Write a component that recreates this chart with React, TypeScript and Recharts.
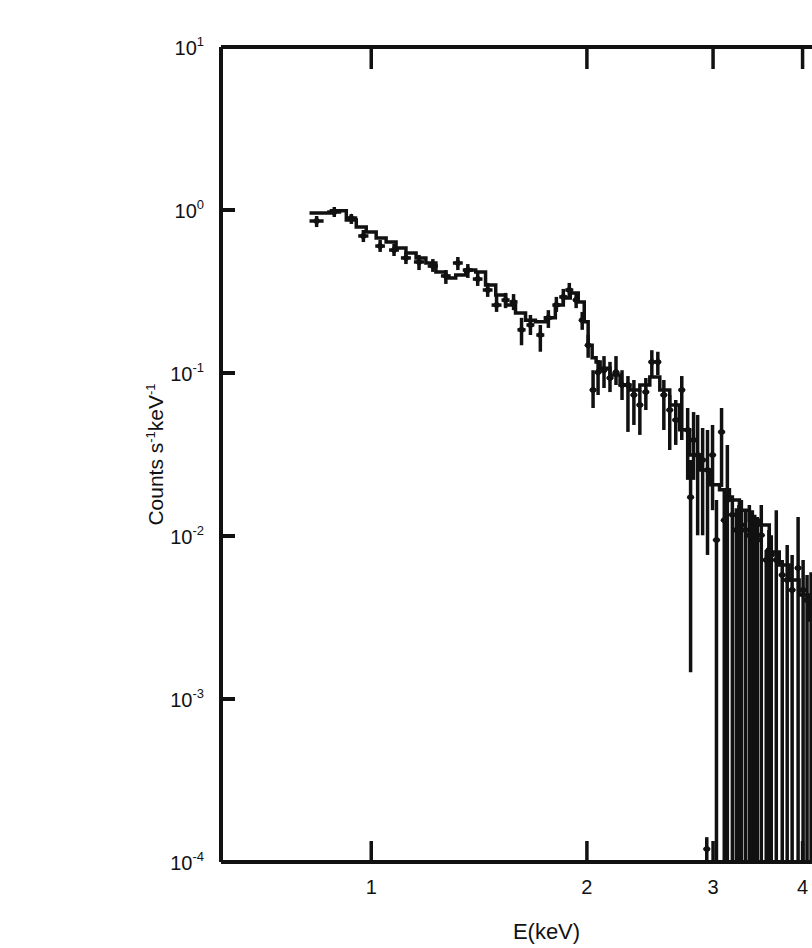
import React from 'react';
import { ComposedChart, Line, Scatter, ErrorBar, XAxis, YAxis, Label } from 'recharts';

const FONT = '"Liberation Sans", Arial, sans-serif';
const INK = '#111';

// model spectrum (step histogram), keV / counts s^-1 keV^-1
const modelE = [
  0.82, 0.88, 0.923, 0.953, 0.984, 1.016, 1.049, 1.083, 1.118, 1.155,
  1.192, 1.231, 1.271, 1.312, 1.355, 1.399, 1.444, 1.492, 1.54, 1.59,
  1.642, 1.695, 1.75, 1.807, 1.854, 1.896, 1.945, 1.983, 2.008, 2.034,
  2.06, 2.087, 2.154, 2.225, 2.297, 2.371, 2.448, 2.528, 2.61, 2.695,
  2.783, 2.873, 2.966, 3.063, 3.162, 3.265, 3.371, 3.481, 3.594, 3.711,
  3.831, 3.956, 4.084, 4.217, 4.35,
];
const modelV = [
  0.958, 0.99, 0.868, 0.786, 0.733, 0.673, 0.636, 0.585, 0.545, 0.508,
  0.473, 0.417, 0.383, 0.399, 0.428, 0.417, 0.347, 0.301, 0.261, 0.233,
  0.211, 0.206, 0.218, 0.261, 0.288, 0.31, 0.273, 0.206, 0.148, 0.124,
  0.117, 0.107, 0.0972, 0.0844, 0.0787, 0.0844, 0.0945, 0.0787, 0.0637, 0.0449,
  0.0314, 0.0254, 0.0206, 0.0192, 0.0166, 0.0144, 0.0125, 0.0117, 0.00797, 0.00664,
  0.00537, 0.00434, 0.00305, 0.00265, 0.0024,
];

// observed points: energy, rate, lower / upper end of error bar, half bin width
const pointE = [
  0.839, 0.888, 0.938, 0.975, 1.029, 1.076, 1.118, 1.166, 1.219, 1.271,
  1.321, 1.364, 1.408, 1.454, 1.496, 1.54, 1.58, 1.621, 1.668, 1.722,
  1.767, 1.813, 1.854, 1.89, 1.932, 1.97, 2.008, 2.04, 2.073, 2.113,
  2.154, 2.196, 2.239, 2.282, 2.326, 2.371, 2.417, 2.464, 2.512, 2.561,
  2.61, 2.661, 2.713, 2.765, 2.791, 2.818, 2.855, 2.901, 2.947, 2.995,
  3.033, 3.083, 3.141, 3.192, 3.233, 3.286, 3.329, 3.371, 3.404, 3.458,
  3.503, 3.559, 3.617, 3.676, 3.747, 3.807, 3.868, 3.943, 4.007, 4.058, 4.111, 2.94,
  3.11, 3.26, 3.43, 3.59,
];
const pointV = [
  0.856, 0.972, 0.893, 0.693, 0.601, 0.568, 0.508, 0.48, 0.453, 0.394,
  0.473, 0.428, 0.377, 0.323, 0.261, 0.28, 0.273, 0.184, 0.197, 0.171,
  0.218, 0.261, 0.293, 0.323, 0.28, 0.211, 0.148, 0.0787, 0.101, 0.104,
  0.0932, 0.101, 0.0844, 0.0844, 0.0733, 0.0637, 0.0764, 0.117, 0.117, 0.0733,
  0.0593, 0.0515, 0.0787, 0.0447, 0.0173, 0.0388, 0.0314, 0.0293, 0.0254, 0.0314,
  0.00945, 0.0435, 0.0166, 0.0135, 0.0109, 0.0117, 0.0109, 0.0101, 0.0109, 0.00945,
  0.0101, 0.00713, 0.00765, 0.00713, 0.00576, 0.00537, 0.00466, 0.00636, 0.00466, 0.00405, 0.00405, 0.00012,
  0.0125, 0.0109, 0.00945, 0.0082,
];
const pointLo = [
  0.786, 0.906, 0.821, 0.636, 0.553, 0.522, 0.466, 0.428, 0.417, 0.352,
  0.428, 0.383, 0.342, 0.293, 0.237, 0.25, 0.243, 0.148, 0.171, 0.135,
  0.189, 0.237, 0.269, 0.293, 0.25, 0.184, 0.124, 0.061, 0.0733, 0.0809,
  0.0764, 0.0844, 0.0683, 0.0435, 0.048, 0.0417, 0.0593, 0.0958, 0.0972, 0.0447,
  0.0337, 0.0362, 0.0388, 0.0221, 0.00146, 0.0221, 0.0101, 0.0101, 0.00765, 0.0144,
  0.0001, 0.02, 0.0001, 0.0001, 0.0001, 0.0001, 0.0001, 0.0001, 0.0001, 0.0001,
  0.0001, 0.0001, 0.0001, 0.0001, 0.0001, 0.0001, 0.0001, 0.0001, 0.0001, 0.0001, 0.0001, 0.0001,
  0.0001, 0.0001, 0.0001, 0.0001,
];
const pointHi = [
  0.919, 1.043, 0.945, 0.754, 0.655, 0.619, 0.553, 0.53, 0.5, 0.428,
  0.515, 0.466, 0.417, 0.357, 0.297, 0.31, 0.305, 0.218, 0.227, 0.197,
  0.243, 0.293, 0.328, 0.357, 0.305, 0.237, 0.171, 0.104, 0.12, 0.127,
  0.117, 0.127, 0.104, 0.0958, 0.0906, 0.0787, 0.0932, 0.138, 0.135, 0.0906,
  0.0733, 0.0683, 0.0958, 0.061, 0.0293, 0.0576, 0.0553, 0.046, 0.0447, 0.048,
  0.0166, 0.061, 0.0362, 0.0178, 0.0148, 0.0166, 0.0144, 0.0155, 0.0144, 0.0131,
  0.0155, 0.0082, 0.0101, 0.0144, 0.00713, 0.00881, 0.00765, 0.0131, 0.00713, 0.00576, 0.006, 0.000142,
  0.0192, 0.0155, 0.0135, 0.0109,
];
const pointHalfW = [
  0.019, 0.02, 0.018, 0.016, 0.016, 0.017, 0.018, 0.019, 0.02, 0.02,
  0.021, 0.022, 0.022, 0.023, 0.024, 0.02, 0.02, 0.021, 0.021, 0.022,
  0.023, 0.023, 0.024, 0.024, 0.019, 0.019, 0.019, 0.02, 0.02, 0.02,
  0.021, 0.021, 0.022, 0.022, 0.022, 0.023, 0.023, 0.024, 0.024, 0.025,
  0.025, 0.026, 0.026, 0.027, 0.027, 0.027, 0.027, 0.028, 0.028, 0.029,
  0.029, 0.03, 0.03, 0.031, 0.031, 0.032, 0.032, 0.032, 0.033, 0.033,
  0.034, 0.034, 0.035, 0.035, 0.036, 0.037, 0.037, 0.038, 0.038, 0.039, 0.039, 0.028,
  0.03, 0.031, 0.033, 0.034,
];

const xTicks = [1, 2, 3, 4];
const yTicks = [1e-4, 1e-3, 1e-2, 1e-1, 1, 10];

const model = modelE.map((E, i) => ({ E, V: modelV[i] }));
const points = pointE.map((E, i) => ({
  E,
  V: pointV[i],
  yErr: [pointV[i] - pointLo[i], pointHi[i] - pointV[i]],
  xErr: pointHalfW[i],
}));

const Diamond = (props: any) => {
  const { cx, cy } = props;
  if (cx == null || cy == null || isNaN(cx) || isNaN(cy)) return null;
  return <path d={`M${cx},${cy - 4.5} L${cx + 4},${cy} L${cx},${cy + 4.5} L${cx - 4},${cy} Z`} fill={INK} />;
};

const BottomTick = ({ x, y, payload }: any) => (
  <g>
    <line x1={x} y1={y} x2={x} y2={y - 21} stroke={INK} strokeWidth={3.5} />
    <text x={x} y={y + 32} textAnchor="middle" fontSize={20} fill={INK} fontFamily={FONT}>
      {payload.value}
    </text>
  </g>
);

const TopTick = ({ x, y }: any) => (
  <line x1={x} y1={y} x2={x} y2={y + 22} stroke={INK} strokeWidth={3.5} />
);

const LeftTick = ({ x, y, payload }: any) => {
  const exp = Math.round(Math.log10(payload.value));
  return (
    <g>
      <line x1={x} y1={y} x2={x + 14} y2={y} stroke={INK} strokeWidth={4} />
      <text x={x - 17} y={y + 8} textAnchor="end" fontSize={20} fill={INK} fontFamily={FONT}>
        10<tspan fontSize={13} dy={-9}>{exp}</tspan>
      </text>
    </g>
  );
};

const XTitle = ({ viewBox }: any) => (
  <text x={viewBox.x + viewBox.width / 2} y={viewBox.y + 77} textAnchor="middle" fontSize={22} fill={INK} fontFamily={FONT}>
    E(keV)
  </text>
);

const YTitle = ({ viewBox }: any) => {
  const bx = viewBox.x + viewBox.width - 58;
  const cy = viewBox.y + viewBox.height / 2;
  return (
    <text x={bx} y={cy} transform={`rotate(-90 ${bx} ${cy})`} textAnchor="middle" fontSize={21} fill={INK} fontFamily={FONT}>
      Counts s<tspan fontSize={13} dy={-8}>-1</tspan>
      <tspan dy={8}>keV</tspan>
      <tspan fontSize={13} dy={-8}>-1</tspan>
    </text>
  );
};

const App: React.FC = () => {
  return (
    <div style={{ position: 'fixed', left: 0, top: 0, width: 812, height: 948, overflow: 'hidden', background: '#fff' }}>
      <ComposedChart width={900} height={948} margin={{ top: 17, right: 28, bottom: 56, left: 191 }}>
        <XAxis
          dataKey="E"
          type="number"
          scale="log"
          domain={[0.617, 5]}
          allowDataOverflow
          ticks={xTicks}
          interval={0}
          tick={BottomTick}
          tickLine={false}
          tickSize={0}
          tickMargin={0}
          height={30}
          axisLine={{ stroke: INK, strokeWidth: 4 }}
        >
          <Label content={XTitle} />
        </XAxis>
        <XAxis
          xAxisId="top"
          orientation="top"
          dataKey="E"
          type="number"
          scale="log"
          domain={[0.617, 5]}
          allowDataOverflow
          ticks={xTicks}
          interval={0}
          tick={TopTick}
          tickLine={false}
          tickSize={0}
          tickMargin={0}
          height={30}
          axisLine={{ stroke: INK, strokeWidth: 4 }}
        />
        <YAxis
          type="number"
          scale="log"
          domain={[1e-4, 10]}
          allowDataOverflow
          ticks={yTicks}
          interval={0}
          tick={LeftTick}
          tickLine={false}
          tickSize={0}
          tickMargin={0}
          width={30}
          axisLine={{ stroke: INK, strokeWidth: 4 }}
        >
          <Label content={YTitle} />
        </YAxis>
        <Line
          data={model}
          dataKey="V"
          type="stepAfter"
          stroke={INK}
          strokeWidth={3.5}
          dot={false}
          isAnimationActive={false}
        />
        <Scatter data={points} dataKey="V" shape={Diamond} fill={INK} isAnimationActive={false}>
          <ErrorBar dataKey="yErr" direction="y" width={0} stroke={INK} strokeWidth={3.5} isAnimationActive={false} />
          <ErrorBar dataKey="xErr" direction="x" width={0} stroke={INK} strokeWidth={3.5} isAnimationActive={false} />
        </Scatter>
      </ComposedChart>
    </div>
  );
};

export default App;
